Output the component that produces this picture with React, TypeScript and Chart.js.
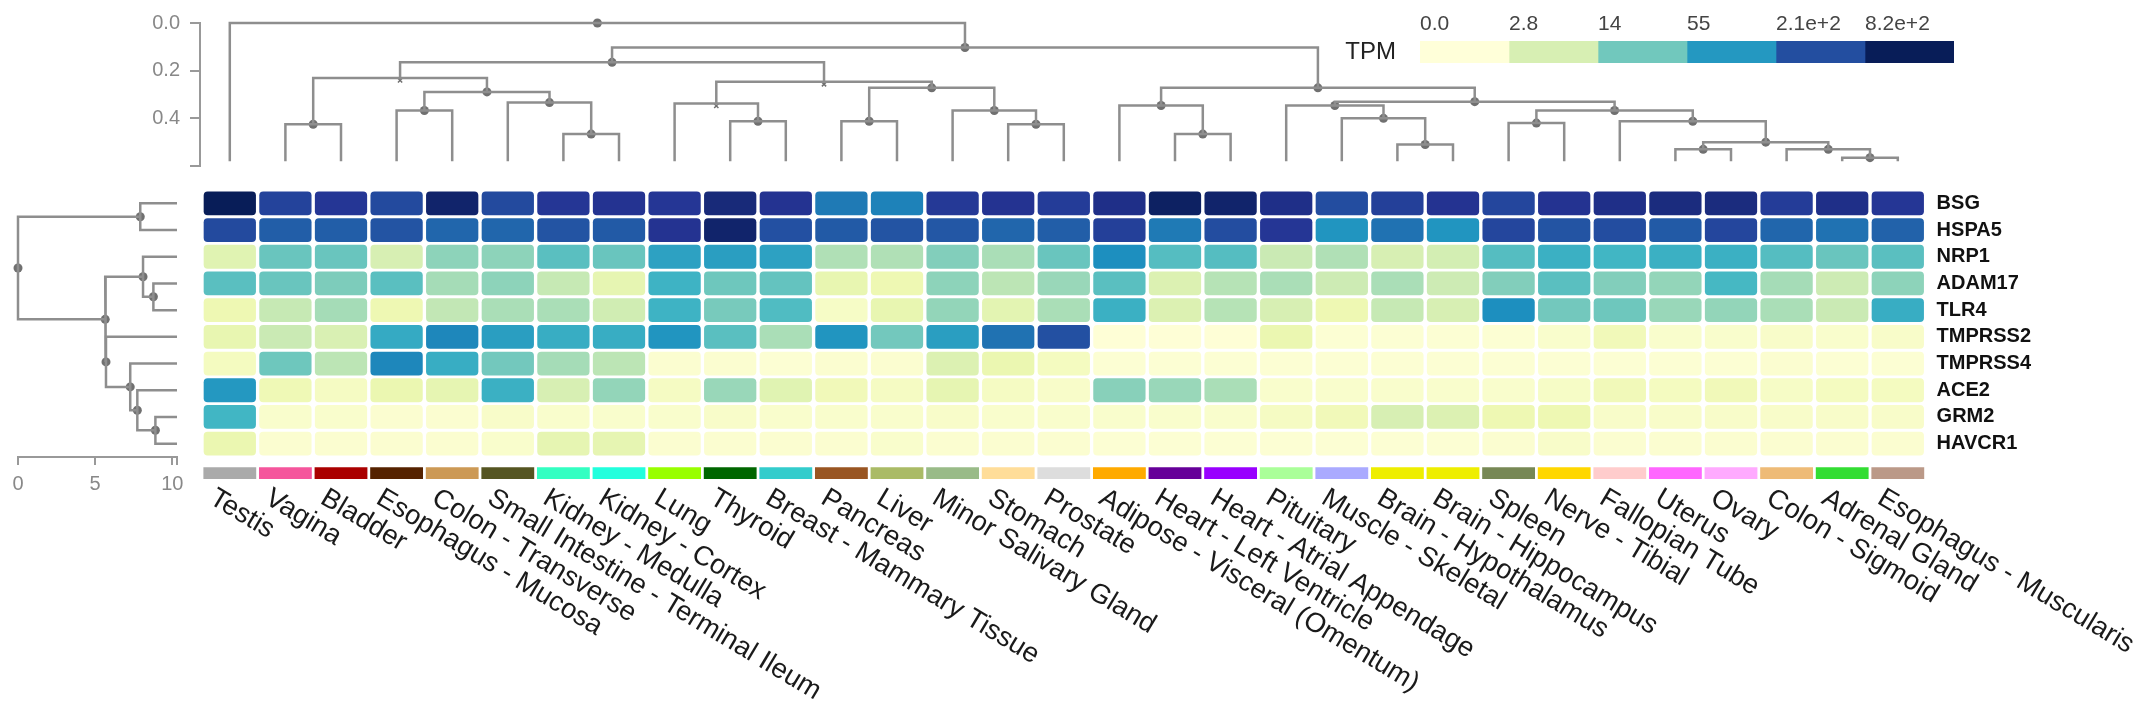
import React, { useEffect, useRef } from "react";
import { Chart, registerables } from "chart.js";
Chart.register(...registerables);

// ---------------- data ----------------
const tissues = [
  "Testis", "Vagina", "Bladder", "Esophagus - Mucosa", "Colon - Transverse",
  "Small Intestine - Terminal Ileum", "Kidney - Medulla", "Kidney - Cortex", "Lung", "Thyroid",
  "Breast - Mammary Tissue", "Pancreas", "Liver", "Minor Salivary Gland", "Stomach", "Prostate",
  "Adipose - Visceral (Omentum)", "Heart - Left Ventricle", "Heart - Atrial Appendage", "Pituitary",
  "Muscle - Skeletal", "Brain - Hypothalamus", "Brain - Hippocampus", "Spleen", "Nerve - Tibial",
  "Fallopian Tube", "Uterus", "Ovary", "Colon - Sigmoid", "Adrenal Gland", "Esophagus - Muscularis",
];
const tissueColors = [
  "#AAAAAA", "#F5559C", "#AA0000", "#552200", "#CC9955", "#555522", "#33FFC2", "#22FFDD",
  "#99FF00", "#006600", "#33CCCC", "#995522", "#AABB66", "#99BB88", "#FFDD99", "#DDDDDD",
  "#FFAA00", "#660099", "#9900FF", "#AAFF99", "#AAAAFF", "#EEEE00", "#EEEE00", "#778855",
  "#FFD700", "#FFCCCC", "#FF66FF", "#FFAAFF", "#EEBB77", "#33DD33", "#BB9988",
];
const genes = ["BSG", "HSPA5", "NRP1", "ADAM17", "TLR4", "TMPRSS2", "TMPRSS4", "ACE2", "GRM2", "HAVCR1"];

// TPM values, one array per gene, in tissue order
const bsg = [820, 263, 343, 229, 626, 229, 343, 367, 343, 513, 367, 96, 84, 321, 367, 300, 420, 716, 626, 420, 214, 281, 367, 246, 367, 420, 479, 479, 300, 420, 343];
const hspa5 = [229, 153, 153, 188, 133, 133, 188, 164, 367, 626, 200, 164, 188, 176, 133, 153, 281, 96, 214, 343, 59, 109, 59, 246, 188, 214, 164, 246, 133, 109, 143];
const nrp1 = [2.1, 15.7, 15.7, 2.8, 9.5, 9.5, 19.5, 15.7, 45, 48, 45, 6.0, 6.0, 11, 6.5, 15.7, 68, 20.8, 20.8, 4.0, 6.0, 2.8, 3.1, 20.8, 31.8, 27.7, 31.8, 31.8, 20.8, 15.7, 19.5];
const adam17 = [19.5, 15.7, 11.8, 19.5, 7.0, 9.5, 4.4, 1.7, 29.6, 14.6, 16.8, 1.6, 1.2, 9.5, 5.1, 8.2, 19.5, 2.4, 5.5, 6.5, 3.7, 6.5, 3.7, 11, 19.5, 11, 8.8, 25.7, 7.0, 3.7, 9.5];
const tlr4 = [1.2, 4.4, 7.0, 1.2, 4.7, 6.5, 6.5, 3.4, 29.6, 12.7, 22.4, 0.5, 1.6, 8.8, 1.9, 6.5, 31.8, 2.4, 5.5, 2.8, 1.2, 4.4, 2.8, 68, 13.6, 14.6, 8.2, 8.8, 6.5, 4.0, 34];
const tmprss2 = [1.6, 4.0, 2.6, 36.5, 77, 48, 34, 34, 59, 19.5, 6.5, 59, 13.6, 48, 109, 200, 0.07, 0.07, 0.07, 1.4, 0.14, 0.14, 0.14, 0.14, 0.3, 0.96, 0.3, 0.3, 0.4, 0.3, 0.4];
const tmprss4 = [0.7, 14.6, 5.1, 77, 34, 13.6, 7.0, 5.1, 0.22, 0.22, 0.14, 0.22, 0.22, 2.4, 1.4, 0.7, 0.14, 0.14, 0.14, 0.14, 0.14, 0.14, 0.14, 0.14, 0.14, 0.14, 0.14, 0.14, 0.22, 0.14, 0.14];
const ace2 = [55, 1.1, 0.6, 1.4, 1.7, 31.8, 2.8, 8.8, 0.6, 8.2, 2.1, 0.96, 0.6, 1.7, 0.6, 0.4, 10.2, 8.2, 6.5, 0.3, 0.3, 0.3, 0.3, 0.3, 0.5, 0.96, 0.7, 0.96, 0.5, 0.7, 0.7];
const grm2 = [27.7, 0.3, 0.3, 0.22, 0.22, 0.4, 0.3, 0.3, 0.3, 0.4, 0.3, 0.3, 0.3, 0.4, 0.3, 0.3, 0.3, 0.3, 0.3, 0.6, 0.96, 2.8, 2.4, 1.2, 1.2, 0.4, 0.4, 0.4, 0.4, 0.4, 0.4];
const havcr1 = [1.4, 0.22, 0.22, 0.22, 0.22, 0.3, 1.7, 1.7, 0.22, 0.22, 0.22, 0.22, 0.3, 0.22, 0.22, 0.22, 0.14, 0.14, 0.14, 0.14, 0.14, 0.14, 0.14, 0.22, 0.4, 0.22, 0.22, 0.22, 0.22, 0.22, 0.22];
const geneValues = [bsg, hspa5, nrp1, adam17, tlr4, tmprss2, tmprss4, ace2, grm2, havcr1];

// legend
const legendValues = [0, 2.8, 14, 55, 210, 820];
const legendTicks = ["0.0", "2.8", "14", "55", "2.1e+2", "8.2e+2"];
const legendTitle = "TPM";

// column dendrogram: [childA, childB, height]; numbers = leaves, "mK" = merge K
type Ref = number | string;
const colMerges: [Ref, Ref, number][] = [
  [1, 2, 0.425], [3, 4, 0.367], [6, 7, 0.466], [5, "m2", 0.334], ["m1", "m3", 0.289],
  ["m0", "m4", 0.231], [9, 10, 0.412], [8, "m6", 0.338], [11, 12, 0.412], [14, 15, 0.425],
  [13, "m9", 0.367], ["m8", "m10", 0.272], ["m7", "m11", 0.247], ["m5", "m12", 0.165], [17, 18, 0.466],
  [16, "m14", 0.346], [21, 22, 0.51], [20, "m16", 0.40], [19, "m17", 0.346], [23, 24, 0.42],
  [26, 27, 0.53], [29, 30, 0.565], [28, "m21", 0.53], ["m20", "m22", 0.5], [25, "m23", 0.412],
  ["m19", "m24", 0.367], ["m18", "m25", 0.33], ["m15", "m26", 0.272], ["m13", "m27", 0.103], [0, "m28", 0],
];
const colMarked = [5, 7, 12];
const colLeafHeight = 0.58;
const colAxisTicks = [0, 0.2, 0.4, 0.6];

// row dendrogram
const rowMerges: [Ref, Ref, number][] = [
  [0, 1, 7.92], [3, 4, 8.77], [2, "m1", 8.1], [8, 9, 8.9], [7, "m3", 7.73],
  [6, "m4", 7.27], [5, "m5", 5.7], ["m2", "m6", 5.65], ["m0", "m7", 0],
];
const rowLeafHeight = 10.3;
const rowAxisTicks = [0, 5, 10, 10.3];

// ---------------- helpers ----------------
const YLGNBU = ["#ffffd9", "#edf8b1", "#c7e9b4", "#7fcdbb", "#41b6c4", "#1d91c0", "#225ea8", "#253494", "#081d58"];
const hex = (h: string) => [1, 3, 5].map((i) => parseInt(h.slice(i, i + 2), 16));
function colorFor(v: number) {
  let t = Math.log10(1 + v) / Math.log10(1 + 820);
  t = Math.max(0, Math.min(1, t));
  const f = t * (YLGNBU.length - 1);
  const i = Math.min(YLGNBU.length - 2, Math.floor(f));
  const a = hex(YLGNBU[i]), b = hex(YLGNBU[i + 1]);
  const k = f - i;
  const c = a.map((x, j) => Math.round(x + (b[j] - x) * k));
  return `rgb(${c[0]},${c[1]},${c[2]})`;
}
function buildTree(merges: [Ref, Ref, number][], leafH: number) {
  const pos: number[] = [], hgt: number[] = [];
  const P = (r: Ref) => (typeof r === "number" ? r : pos[+r.slice(1)]);
  const H = (r: Ref) => (typeof r === "number" ? leafH : hgt[+r.slice(1)]);
  const links = merges.map(([a, b, h], k) => {
    const pa = P(a), pb = P(b);
    pos[k] = (pa + pb) / 2;
    hgt[k] = h;
    return [[pa, H(a)], [pa, h], [pb, h], [pb, H(b)]];
  });
  return { links, nodes: merges.map((_, k) => [pos[k], hgt[k]]) };
}

const FONT = '"Liberation Sans", Arial, Helvetica, sans-serif';
Chart.defaults.font.family = FONT;
const W = 2150, Hh = 705;
const HEAT_LEFT = 202, HEAT_TOP = 190, COL_W = 55.6, ROW_H = 26.7;
const HEAT_RIGHT = HEAT_LEFT + COL_W * tissues.length;
const LINE = "#8e8e8e", DOT = "#707070", AXIS = "#999", AXIS_TXT = "#888";
const noPlugins = { legend: { display: false }, tooltip: { enabled: false } };

function heatConfig(): any {
  const datasets: any[] = geneValues.map((vals, r) => ({
    data: vals.map(() => [r - 0.445, r + 0.445]),
    backgroundColor: vals.map(colorFor),
    borderRadius: 4, borderSkipped: false, grouped: false,
    barPercentage: 0.94, categoryPercentage: 1,
  }));
  datasets.push({
    data: tissues.map(() => [9.88, 10.32]),
    backgroundColor: tissueColors, borderRadius: 0, borderSkipped: false, grouped: false,
    barPercentage: 0.95, categoryPercentage: 1,
  });
  const yMax = 10.4;
  return {
    type: "bar",
    data: { labels: tissues, datasets },
    options: {
      animation: false, responsive: false, plugins: noPlugins,
      layout: { padding: { left: HEAT_LEFT, top: HEAT_TOP, right: W - HEAT_RIGHT - 200, bottom: Hh - (HEAT_TOP + ROW_H * (yMax + 0.5)) } },
      scales: {
        x: { type: "category", display: false },
        y: {
          type: "linear", position: "right", reverse: true, min: -0.5, max: yMax,
          grid: { display: false, drawTicks: false }, border: { display: false },
          afterBuildTicks: (s: any) => { s.ticks = genes.map((_, i) => ({ value: i })); },
          afterFit: (s: any) => { s.width = 200; },
          ticks: { callback: (v: any) => genes[v], font: { size: 20, weight: "bold" }, color: "#111", padding: 11, autoSkip: false },
        },
      },
    },
    plugins: [{
      id: "tissueLabels",
      afterDraw(chart: any) {
        const { ctx } = chart; const x = chart.scales.x;
        ctx.save();
        ctx.font = `27.5px ${FONT}`; ctx.fillStyle = "#1a1a1a";
        ctx.textAlign = "left"; ctx.textBaseline = "middle";
        tissues.forEach((t, i) => {
          const px = x.getPixelForValue(i);
          ctx.save(); ctx.translate(px - 18, 496); ctx.rotate((31 * Math.PI) / 180);
          ctx.fillText(t, 0, 0); ctx.restore();
        });
        ctx.restore();
      },
    }],
  };
}

function colTreeConfig(): any {
  const { links, nodes } = buildTree(colMerges, colLeafHeight);
  const datasets: any[] = links.map((l) => ({
    data: l.map(([p, h]) => ({ x: p, y: h })), showLine: true, borderColor: LINE, borderWidth: 2.5,
    pointRadius: 0, clip: false,
  }));
  datasets.push({
    data: nodes.filter((_, k) => !colMarked.includes(k)).map(([p, h]) => ({ x: p, y: h })),
    pointRadius: 4.5, backgroundColor: DOT, borderWidth: 0, clip: false,
  });
  datasets.push({
    data: nodes.filter((_, k) => colMarked.includes(k)).map(([p, h]) => ({ x: p, y: h + 0.01 })),
    pointRadius: 3, pointStyle: "crossRot", borderColor: DOT, borderWidth: 1.5, clip: false,
  });
  const axisX = 200;
  return {
    type: "scatter",
    data: { datasets },
    options: {
      animation: false, responsive: false, plugins: noPlugins,
      layout: { padding: { left: 0, top: 23, right: W - HEAT_RIGHT, bottom: Hh - 166 } },
      scales: {
        x: { type: "linear", display: false, min: -0.5 - (HEAT_LEFT - axisX) / COL_W, max: tissues.length - 0.5 },
        y: {
          type: "linear", min: 0, max: 0.6, reverse: true, position: "left",
          afterFit: (s: any) => { s.width = axisX; },
          afterBuildTicks: (s: any) => { s.ticks = colAxisTicks.map((v) => ({ value: v })); },
          ticks: { callback: (v: any) => (v > 0.5 ? "" : Number(v).toFixed(1)), font: { size: 20 }, color: AXIS_TXT, padding: 10 },
          grid: { drawOnChartArea: false, tickLength: 10, color: AXIS, lineWidth: 2 },
          border: { color: AXIS, width: 2 },
        },
      },
    },
  };
}

function rowTreeConfig(): any {
  const { links, nodes } = buildTree(rowMerges, rowLeafHeight);
  const datasets: any[] = links.map((l) => ({
    data: l.map(([p, h]) => ({ x: h, y: p })), showLine: true, borderColor: LINE, borderWidth: 2.5,
    pointRadius: 0, clip: false,
  }));
  datasets.push({
    data: nodes.map(([p, h]) => ({ x: h, y: p })), pointRadius: 4.5, backgroundColor: DOT, borderWidth: 0, clip: false,
  });
  const left = 18, right = 177, bottom = HEAT_TOP + ROW_H * genes.length;
  return {
    type: "scatter",
    data: { datasets },
    options: {
      animation: false, responsive: false, plugins: noPlugins,
      layout: { padding: { left, top: HEAT_TOP, right: W - right, bottom: 0 } },
      scales: {
        x: {
          type: "linear", min: 0, max: rowLeafHeight, position: "bottom",
          afterFit: (s: any) => { s.height = Hh - bottom; },
          afterBuildTicks: (s: any) => { s.ticks = rowAxisTicks.map((v) => ({ value: v })); },
          ticks: { callback: (v: any) => (v > 10.1 ? "" : String(v)), font: { size: 20 }, color: AXIS_TXT, padding: 7, maxRotation: 0, autoSkip: false },
          grid: { drawOnChartArea: false, tickLength: 8, color: AXIS, lineWidth: 2 },
          border: { color: AXIS, width: 2 },
        },
        y: { type: "linear", min: -0.5, max: genes.length - 0.5, reverse: true, display: false },
      },
    },
  };
}

function legendConfig(): any {
  const left = 1420, right = 1954, top = 41, bottom = 63;
  return {
    type: "bar",
    data: {
      labels: [legendTitle],
      datasets: legendValues.map((v) => ({ data: [1], backgroundColor: colorFor(v), borderWidth: 0, barPercentage: 1, categoryPercentage: 1 })),
    },
    options: {
      indexAxis: "y", animation: false, responsive: false, plugins: noPlugins,
      layout: { padding: { left: left - 100, right: W - right, top: 0, bottom: Hh - bottom } },
      scales: {
        x: {
          stacked: true, position: "top", min: 0, max: legendValues.length,
          grid: { display: false, drawTicks: false }, border: { display: false },
          afterBuildTicks: (s: any) => { s.ticks = legendTicks.map((_, i) => ({ value: i })); },
          afterFit: (s: any) => { s.height = top; },
          ticks: { align: "start", callback: (v: any) => legendTicks[v], font: { size: 21 }, color: "#444", padding: 4, autoSkip: false, maxRotation: 0 },
        },
        y: {
          stacked: true, grid: { display: false, drawTicks: false }, border: { display: false },
          afterFit: (s: any) => { s.width = 100; },
          ticks: { font: { size: 24 }, color: "#222", padding: 24 },
        },
      },
    },
  };
}

export default function App() {
  const r1 = useRef<HTMLCanvasElement>(null);
  const r2 = useRef<HTMLCanvasElement>(null);
  const r3 = useRef<HTMLCanvasElement>(null);
  const r4 = useRef<HTMLCanvasElement>(null);
  useEffect(() => {
    document.body.style.margin = "0";
    const charts = [
      new Chart(r1.current!, heatConfig()),
      new Chart(r2.current!, colTreeConfig()),
      new Chart(r3.current!, rowTreeConfig()),
      new Chart(r4.current!, legendConfig()),
    ];
    return () => charts.forEach((c) => c.destroy());
  }, []);
  const st: React.CSSProperties = { position: "absolute", left: 0, top: 0 };
  return (
    <div style={{ position: "absolute", left: 0, top: 0, width: W, height: Hh, background: "#fff", overflow: "hidden" }}>
      <canvas ref={r1} width={W} height={Hh} style={st} />
      <canvas ref={r2} width={W} height={Hh} style={st} />
      <canvas ref={r3} width={W} height={Hh} style={st} />
      <canvas ref={r4} width={W} height={Hh} style={st} />
    </div>
  );
}
